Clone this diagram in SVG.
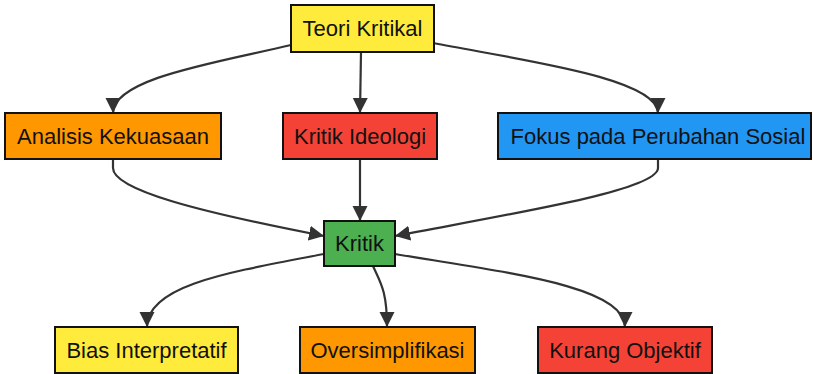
<svg xmlns="http://www.w3.org/2000/svg" width="813" height="374" viewBox="0 0 813 374">
  <style>
    .node rect { stroke: #111; stroke-width: 2; }
    .node text { font-family: "Liberation Sans", Arial, sans-serif; font-size: 22px; fill: #111; text-anchor: middle; }
    .edge { fill: none; stroke: #333; stroke-width: 2.2; }
    .yellow { fill: #FFEB3B; }
    .orange { fill: #FF9800; }
    .red { fill: #F44336; }
    .blue { fill: #2196F3; }
    .green { fill: #4CAF50; }
  </style>
  <defs>
    <marker id="arrow" markerUnits="userSpaceOnUse" markerWidth="16" markerHeight="16" refX="15" refY="7.5" orient="auto">
      <path d="M0,0 L15,7.5 L0,15 z" fill="#333"/>
    </marker>
  </defs>
  <rect width="813" height="374" fill="#fff"/>

  <g id="connectors">
    <path class="edge" marker-end="url(#arrow)" d="M291,45 C220,62 113,78 113,113"/>
    <path class="edge" marker-end="url(#arrow)" d="M361,52 L360,113"/>
    <path class="edge" marker-end="url(#arrow)" d="M433,43 C520,60 658,78 658,113"/>
    <path class="edge" marker-end="url(#arrow)" d="M113,159 L113,168 C113,190 200,212 324,236"/>
    <path class="edge" marker-end="url(#arrow)" d="M360,159 L360,221"/>
    <path class="edge" marker-end="url(#arrow)" d="M658,159 L658,168 C658,190 520,212 395,236"/>
    <path class="edge" marker-end="url(#arrow)" d="M324,254 C230,272 147,285 147,327"/>
    <path class="edge" marker-end="url(#arrow)" d="M373,266 C380,282 387,290 387,327"/>
    <path class="edge" marker-end="url(#arrow)" d="M395,254 C500,272 625,285 625,327"/>
  </g>

  <g id="teori-kritikal" class="node">
    <rect class="yellow" x="291" y="5" width="143" height="47"/>
    <text x="362.5" y="36">Teori Kritikal</text>
  </g>
  <g id="analisis-kekuasaan" class="node">
    <rect class="orange" x="5" y="113" width="216" height="46"/>
    <text x="113" y="143.5">Analisis Kekuasaan</text>
  </g>
  <g id="kritik-ideologi" class="node">
    <rect class="red" x="283" y="113" width="154" height="46"/>
    <text x="360" y="143.5">Kritik Ideologi</text>
  </g>
  <g id="fokus-perubahan-sosial" class="node">
    <rect class="blue" x="498" y="113" width="313" height="46"/>
    <text x="658" y="143.5">Fokus pada Perubahan Sosial</text>
  </g>
  <g id="kritik" class="node">
    <rect class="green" x="324" y="221" width="71" height="45"/>
    <text x="359.5" y="251">Kritik</text>
  </g>
  <g id="bias-interpretatif" class="node">
    <rect class="yellow" x="55" y="327" width="183" height="46"/>
    <text x="146.5" y="357.5">Bias Interpretatif</text>
  </g>
  <g id="oversimplifikasi" class="node">
    <rect class="orange" x="300" y="327" width="175" height="46"/>
    <text x="387.5" y="357.5">Oversimplifikasi</text>
  </g>
  <g id="kurang-objektif" class="node">
    <rect class="red" x="538" y="327" width="174" height="46"/>
    <text x="625" y="357.5">Kurang Objektif</text>
  </g>
</svg>
